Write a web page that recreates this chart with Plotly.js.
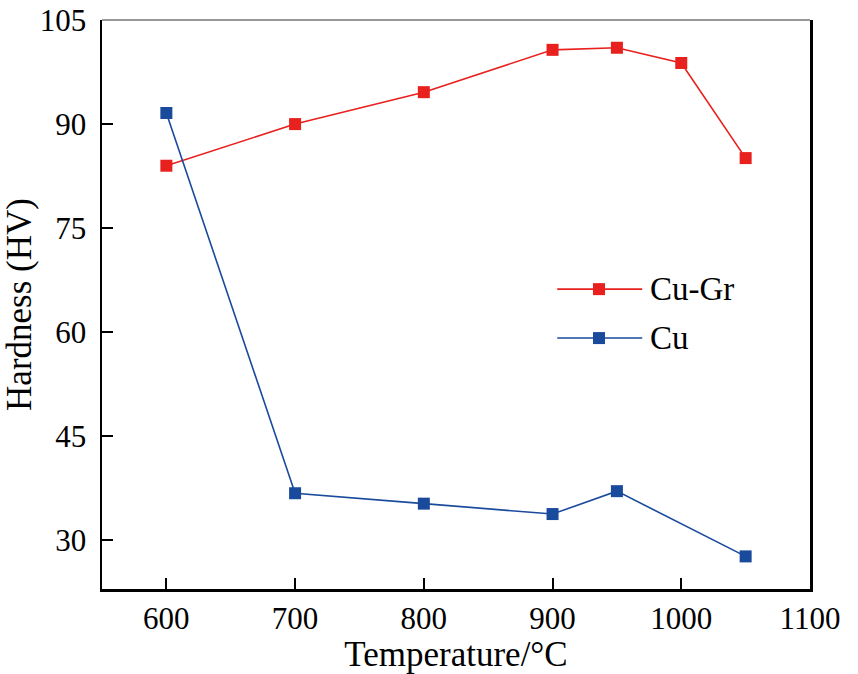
<!DOCTYPE html>
<html>
<head>
<meta charset="utf-8">
<script src="https://cdn.plot.ly/plotly-3.0.1.min.js"></script>
<style>
  body { margin: 0; background: #fff; }
  #chart { width: 858px; height: 674px; }
</style>
</head>
<body>
<div id="chart"></div>
<script>
var temperature = [600, 700, 800, 900, 950, 1000, 1050];
var cuGrHardness = [84.0, 90.0, 94.6, 100.7, 101.0, 98.8, 85.1];
var cuTemperature = [600, 700, 800, 900, 950, 1050];
var cuHardness = [91.6, 36.8, 35.3, 33.8, 37.1, 27.7];
var seriesNames = ['Cu-Gr', 'Cu'];
var seriesColors = ['#e8201e', '#1a4a9c'];
var xTicks = [600, 700, 800, 900, 1000, 1100];
var yTicks = [30, 45, 60, 75, 90, 105];

var font = 'Liberation Serif, Times New Roman, serif';

function makeTrace(x, y, name, color) {
    return {
        x: x,
        y: y,
        name: name,
        mode: 'lines+markers',
        type: 'scatter',
        line: { color: color, width: 1.6 },
        marker: { symbol: 'square', size: 12, color: color },
        showlegend: false
    };
}

var data = [
    makeTrace(temperature, cuGrHardness, seriesNames[0], seriesColors[0]),
    makeTrace(cuTemperature, cuHardness, seriesNames[1], seriesColors[1])
];

// hand-made legend so the sample line can be as long as in the original
var shapes = [
    { type: 'line', xref: 'paper', yref: 'paper', x0: 0, x1: 1, y0: 1, y1: 1,
      line: { color: '#333', width: 1.2 } }
];
var annotations = [];
var legendRows = [0.527, 0.441];
seriesNames.forEach(function (name, i) {
    var yy = legendRows[i];
    shapes.push({ type: 'line', xref: 'paper', yref: 'paper',
        x0: 0.643, x1: 0.763, y0: yy, y1: yy,
        line: { color: seriesColors[i], width: 1.6 } });
    shapes.push({ type: 'rect', xref: 'paper', yref: 'paper',
        xsizemode: 'pixel', ysizemode: 'pixel',
        xanchor: 0.702, yanchor: yy,
        x0: -6, x1: 6, y0: -6, y1: 6,
        fillcolor: seriesColors[i], line: { width: 0 } });
    annotations.push({ xref: 'paper', yref: 'paper', x: 0.771, y: yy,
        xanchor: 'left', yanchor: 'middle', showarrow: false,
        text: name, font: { family: font, size: 33, color: '#000' } });
});

var layout = {
    width: 858,
    height: 674,
    margin: { l: 102, r: 48, t: 20, b: 85 },
    paper_bgcolor: '#fff',
    plot_bgcolor: '#fff',
    font: { family: font, size: 31, color: '#000' },
    xaxis: {
        range: [550, 1100],
        tickvals: xTicks,
        ticks: 'inside',
        ticklen: 11,
        tickwidth: 2,
        tickcolor: '#000',
        showline: true,
        linewidth: 2.5,
        linecolor: '#000',
        showgrid: false,
        zeroline: false,
        ticklabelstandoff: 0,
        tickfont: { family: font, size: 31 },
        title: { text: 'Temperature/°C', font: { family: font, size: 35 }, standoff: 0 }
    },
    yaxis: {
        range: [23, 105],
        tickvals: yTicks,
        ticks: 'inside',
        ticklen: 11,
        tickwidth: 2,
        tickcolor: '#000',
        showline: true,
        mirror: true,
        linewidth: 2.5,
        linecolor: '#000',
        showgrid: false,
        zeroline: false,
        ticklabelstandoff: 7,
        tickfont: { family: font, size: 31 },
        title: { text: 'Hardness (HV)', font: { family: font, size: 35 }, standoff: 2 }
    },
    shapes: shapes,
    annotations: annotations
};

Plotly.newPlot('chart', data, layout, { displayModeBar: false, staticPlot: true });
</script>
</body>
</html>
